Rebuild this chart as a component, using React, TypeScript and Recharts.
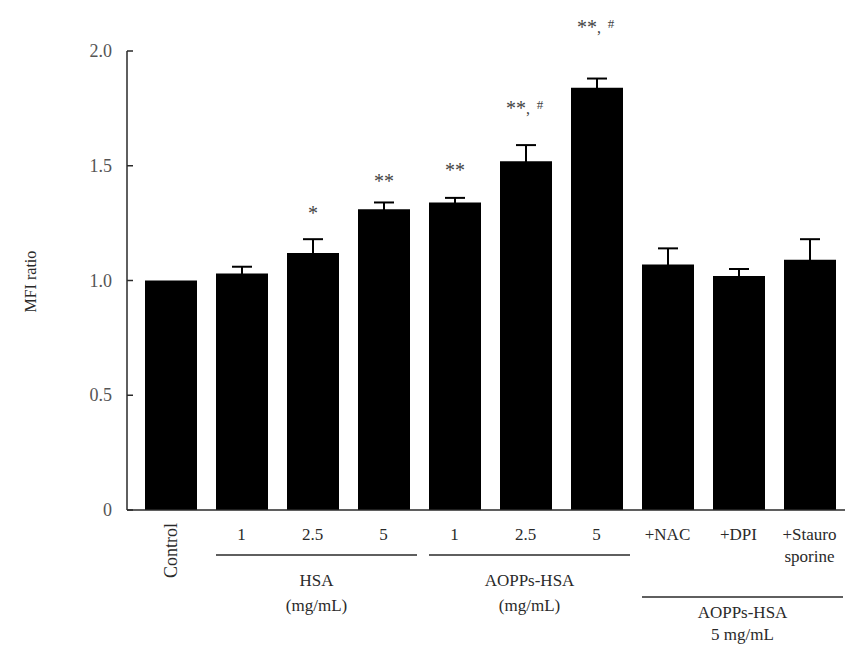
import { BarChart, Bar, XAxis, YAxis, ErrorBar, LabelList } from "recharts";

// values
const categories = ["Control", "1", "2.5", "5", "1", "2.5", "5", "+NAC", "+DPI", "+Stauro|sporine"];
const mfiRatio = [1.0, 1.03, 1.12, 1.31, 1.34, 1.52, 1.84, 1.07, 1.02, 1.09];
const sem = [0, 0.03, 0.06, 0.03, 0.02, 0.07, 0.04, 0.07, 0.03, 0.09];
const marks = ["", "", "*", "**", "**", "**,#", "**,#", "", "", ""];
// height (in MFI units) at which each significance mark sits
const markAt = [0, 0, 1.31, 1.45, 1.5, 1.77, 2.12, 0, 0, 0];
const yTicks = [0, 0.5, 1.0, 1.5, 2.0];
const groups = [
  { first: 1, last: 3, lines: ["HSA", "(mg/mL)"], row: 0 },
  { first: 4, last: 6, lines: ["AOPPs-HSA", "(mg/mL)"], row: 0 },
  { first: 7, last: 9, lines: ["AOPPs-HSA", "5 mg/mL"], row: 1 },
];

const data = categories.map((c, i) => ({
  name: c, value: mfiRatio[i], err: sem[i], mark: marks[i], markAt: markAt[i],
}));

const W = 852;
const H = 646;
const BAND = 71;
const FONT = "'Liberation Serif', 'DejaVu Serif', serif";
const INK = "#2a2a2a";

function XTick(props: any) {
  const { x, y, payload, index } = props;
  const label: string = payload.value;
  const out: any[] = [];
  if (index === 0) {
    out.push(
      <text key="t" x={x + 6} y={y + 3} transform={`rotate(-90 ${x + 6} ${y + 3})`} textAnchor="end"
        fontSize={18} fill={INK} fontFamily={FONT}>{label}</text>
    );
  } else {
    const parts = label.split("|");
    parts.forEach((p, k) => {
      out.push(
        <text key={"t" + k} x={parts.length > 1 ? x + 27 - (k === 0 ? 0 : 2) : x} y={y + 20 + k * 22}
          textAnchor={parts.length > 1 ? "end" : "middle"} fontSize={17} fill={INK} fontFamily={FONT}>{p}</text>
      );
    });
  }
  groups.forEach((g, gi) => {
    if (index !== g.first) return;
    const x0 = x - BAND / 2 + 10;
    const x1 = x + (g.last - g.first) * BAND + BAND / 2 - 2;
    const ly = g.row === 0 ? y + 35 : y + 77;
    const cx = (x0 + x1) / 2;
    const step = g.row === 0 ? 25 : 22;
    const first = g.row === 0 ? 31 : 21;
    out.push(<line key={"l" + gi} x1={x0} x2={x1} y1={ly} y2={ly} stroke={INK} strokeWidth={1.5} />);
    g.lines.forEach((t, k) => {
      out.push(
        <text key={"g" + gi + k} x={cx} y={ly + first + k * step} textAnchor="middle" fontSize={17} fill={INK}
          fontFamily={FONT}>{t}</text>
      );
    });
  });
  return <g>{out}</g>;
}

function YTick(props: any) {
  const { x, y, payload } = props;
  const v: number = payload.value;
  const txt = v === 0 ? "0" : v.toFixed(1);
  return (
    <g>
      <line x1={x + 15} x2={x + 21} y1={y} y2={y} stroke={INK} strokeWidth={1.5} />
      <text x={x} y={y + 6} textAnchor="end" fontSize={18} fill="#555" fontFamily={FONT}>{txt}</text>
    </g>
  );
}

function MarkLabel(props: any) {
  const { x, y, width, height, index } = props;
  const d = data[index];
  if (!d || !d.mark) return null;
  const pxPerUnit = height / d.value;
  const cy = y + height - d.markAt * pxPerUnit;
  const cx = x + width / 2;
  const [stars, hash] = d.mark.split(",");
  if (hash === undefined) {
    return <text x={cx} y={cy + 11} textAnchor="middle" fontSize={20} fill="#444" fontFamily={FONT}>{stars}</text>;
  }
  return (
    <g fill="#444" fontFamily={FONT}>
      <text x={cx - 10} y={cy + 11} textAnchor="middle" fontSize={20}>{stars}</text>
      <text x={cx + 2} y={cy + 10} textAnchor="middle" fontSize={16}>,</text>
      <text x={cx + 14} y={cy + 5} textAnchor="middle" fontSize={13}>#</text>
    </g>
  );
}

export default function App() {
  return (
    <div style={{ position: "absolute", left: 0, top: 0, width: W, height: H, background: "#fff" }}>
      <BarChart width={W} height={H} data={data} margin={{ top: 51, right: 7, bottom: 106, left: 67 }} barCategoryGap={0}>
        <XAxis dataKey="name" interval={0} axisLine={{ stroke: INK, strokeWidth: 1.5 }} tickLine={false}
          tick={<XTick />} padding={{ left: 8, right: 0 }} tickSize={0} tickMargin={10} />
        <YAxis domain={[0, 2]} ticks={yTicks} width={60} axisLine={{ stroke: INK, strokeWidth: 1.5 }}
          tickLine={false} tick={<YTick />} tickSize={0} tickMargin={15} interval={0}
          label={{ value: "MFI ratio", angle: -90, position: "insideLeft", dx: -42, dy: 32,
            style: { fontFamily: FONT, fontSize: 16, fill: INK } }} />
        <Bar dataKey="value" fill="#000" barSize={52} isAnimationActive={false}>
          <ErrorBar dataKey="err" direction="y" width={10} stroke="#000" strokeWidth={2} />
          <LabelList dataKey="mark" content={<MarkLabel />} />
        </Bar>
      </BarChart>
    </div>
  );
}
